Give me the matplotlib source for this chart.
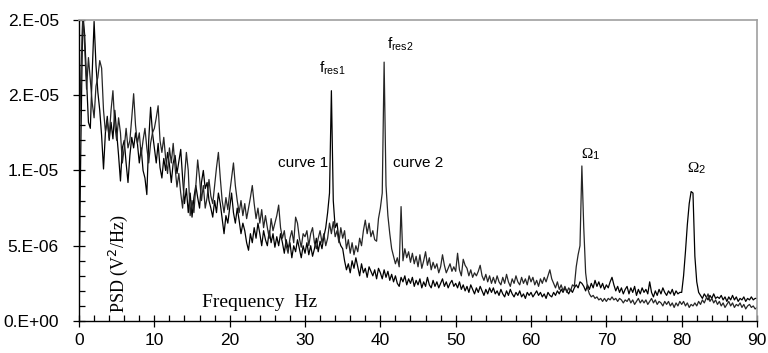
import matplotlib
matplotlib.use("Agg")
import matplotlib.pyplot as plt
from matplotlib.ticker import MultipleLocator
import numpy as np

# ---- data (PSD in units of 1e-6 V^2/Hz, sampled every 0.25 Hz from 0 to 90 Hz) ----
freq_step = 0.25

psd_curve1 = [
    2.3, 12.0, 20.5, 19.0, 16.0, 13.2, 12.8, 16.5, 19.9, 17.0, 15.2, 14.0, 12.3, 10.1, 12.5, 13.6, 12.0, 13.2, 12.1, 14.0,
    12.5, 11.0, 9.3, 11.5, 12.0, 10.5, 9.2, 11.0, 12.2, 11.5, 12.5, 11.8, 10.5, 11.5, 10.0, 9.5, 8.4, 12.0, 14.2, 12.5,
    11.5, 10.5, 11.8, 10.2, 9.5, 10.8, 10.0, 11.2, 10.4, 9.2, 10.5, 11.0, 9.8, 10.6, 11.4, 9.5, 7.8, 8.8, 7.2, 8.5,
    6.9, 8.2, 9.0, 8.2, 7.5, 9.2, 10.0, 8.8, 9.2, 8.0, 7.5, 6.9, 8.0, 7.2, 8.5, 7.8, 6.8, 5.8, 7.0, 6.5,
    7.5, 8.5, 7.2, 6.5, 7.5, 6.7, 5.8, 6.5, 6.0, 5.2, 4.7, 5.8, 5.2, 6.2, 5.5, 6.5, 5.8, 5.0, 6.0, 5.4,
    5.0, 6.0, 5.2, 5.8, 4.9, 5.6, 5.0, 5.8, 5.2, 4.5, 5.4, 4.8, 5.2, 4.2, 5.0, 4.6, 5.4, 4.8, 4.2, 5.0,
    4.5, 5.2, 4.4, 5.0, 4.3, 4.8, 5.5, 4.6, 5.3, 4.8, 5.6, 6.2, 7.2, 8.5, 15.3, 8.0, 6.2, 6.5, 5.4, 5.0,
    4.8, 4.0, 3.4, 3.8, 3.2, 4.0, 3.5, 4.2, 3.6, 3.0, 3.8, 3.2, 3.5, 2.9, 3.6, 3.3, 3.0, 3.4, 2.8, 3.5,
    3.2, 2.8, 3.4, 2.9, 3.3, 2.7, 3.1, 2.6, 3.0, 2.5, 2.3, 2.9, 2.6, 3.0, 2.4, 2.8, 2.5, 2.9, 2.3, 2.7,
    2.4, 2.8, 2.2, 2.6, 2.3, 2.9, 2.4, 2.2, 2.7, 2.3, 2.6, 2.2, 2.5, 2.8, 2.3, 2.6, 2.2, 2.5, 2.7, 2.3,
    2.5, 2.2, 2.6, 2.1, 2.4, 2.0, 2.3, 1.9, 2.4, 2.1, 1.8, 2.2, 1.9, 2.3, 2.0, 1.7, 2.1, 1.8, 2.2, 1.9,
    2.2, 1.8, 2.0, 1.7, 2.1, 1.8, 1.6, 2.0, 1.7, 2.1, 1.8, 1.6, 1.9, 1.7, 2.0, 1.6, 1.8, 1.5, 1.9, 1.7,
    1.9, 1.6, 1.8, 2.0, 1.7, 1.9, 1.6, 1.8, 1.5, 1.9, 1.7, 1.6, 1.9, 1.7, 2.0, 1.8, 2.1, 1.9, 2.2, 2.0,
    1.8, 2.1, 1.9, 2.2, 2.4, 2.2, 2.6, 2.5, 2.3, 2.0, 2.4, 2.1, 2.5, 2.2, 2.7, 2.3, 2.6, 2.2, 2.5, 2.1,
    2.4, 2.2, 2.6, 2.9, 2.4, 2.0, 2.3, 1.9, 2.2, 1.8, 2.1, 2.3, 1.8, 2.2, 1.9, 2.3, 1.7, 2.1, 1.8, 2.2,
    1.9, 2.1, 1.8, 2.6, 1.9, 1.6, 2.0, 1.7, 2.1, 1.8, 2.2, 1.9, 1.7, 2.0, 1.8, 2.1, 1.7, 2.0, 1.8, 1.9,
    1.9, 3.0, 4.6, 6.4, 7.8, 8.6, 8.5, 4.3, 2.6, 1.9, 1.7, 1.5, 1.8, 1.6, 1.4, 1.7, 1.5, 1.8, 1.5, 1.6,
    1.5, 1.7, 1.4, 1.6, 1.3, 1.6, 1.4, 1.7, 1.4, 1.6, 1.3, 1.5, 1.4, 1.6, 1.3, 1.5, 1.4, 1.6, 1.4, 1.5,
    1.5,
]

psd_curve2 = [
    11.0, 16.5, 20.3, 18.2, 15.4, 17.5, 16.0, 14.5, 13.5, 15.6, 16.2, 17.3, 16.8, 14.0, 12.6, 13.3, 12.2, 14.0, 15.3, 13.0,
    12.0, 13.5, 12.5, 10.5, 11.5, 12.8, 11.5, 12.0, 13.5, 15.1, 13.0, 11.8, 12.5, 11.0, 12.0, 12.8, 11.5, 10.5, 11.8, 12.5,
    12.8, 13.5, 14.3, 12.0, 11.2, 12.2, 10.8, 9.8, 11.5, 10.5, 11.8, 10.2, 8.9, 9.8, 8.5, 7.5, 9.5, 11.2, 10.0, 7.0,
    8.0, 7.2, 9.0, 10.7, 9.5, 8.0, 9.0, 7.5, 8.2, 9.4, 8.3, 7.8, 9.0, 10.2, 11.2, 9.5, 8.0, 7.2, 8.2, 7.4,
    8.5, 9.5, 10.5, 9.0, 8.0, 7.2, 8.0, 7.0, 7.8, 6.8, 7.5, 8.2, 9.0, 7.8, 6.8, 7.5, 6.5, 7.4, 6.2, 7.0,
    6.2, 5.5, 6.8, 6.0, 6.5, 7.0, 7.7, 6.2, 5.5, 6.0, 5.0, 4.5, 5.5, 6.0, 5.2, 6.9, 6.5, 5.5, 4.9, 5.8,
    5.6, 6.0, 5.0, 5.8, 6.2, 5.2, 4.8, 5.5, 6.0, 5.2, 5.8, 5.0, 5.5, 6.5, 5.8, 6.6, 5.6, 6.0, 5.2, 6.2,
    5.5, 6.0, 4.8, 5.4, 4.5, 5.2, 4.4, 5.0, 4.6, 5.5, 5.0, 6.0, 6.7, 5.8, 6.5, 5.6, 6.0, 5.4, 5.3, 6.8,
    7.5, 8.5, 17.2, 9.0, 7.0, 5.8, 4.8, 4.3, 3.8, 4.2, 3.6, 7.6, 4.0, 4.8, 4.2, 4.6, 3.9, 4.5, 3.8, 4.3,
    3.6, 4.4, 3.5, 4.0, 4.6, 3.7, 4.2, 3.4, 3.9, 3.5, 3.8, 3.2, 3.6, 4.4, 3.7, 3.2, 3.5, 3.8, 3.3, 3.6,
    3.3, 4.5, 3.4, 3.0, 4.1, 3.7, 3.5, 3.0, 3.4, 2.9, 3.2, 3.0, 3.3, 3.7, 3.0, 2.7, 3.1, 2.6, 3.0, 2.5,
    2.9, 2.5, 3.0, 2.6, 2.4, 2.9, 2.5, 3.1, 2.6, 2.3, 2.8, 2.5, 3.0, 2.6, 2.4, 2.9, 2.5, 2.8, 2.4, 3.0,
    2.6, 2.9, 2.4, 2.7, 2.3, 2.8, 2.5, 2.9, 2.6, 3.0, 3.4, 2.8, 2.5, 2.2, 2.6, 2.1, 2.4, 2.0, 2.3, 1.9,
    2.2, 2.0, 2.4, 2.3, 3.6, 4.4, 5.0, 10.3, 6.2, 3.2, 2.2, 1.8, 1.6, 1.7, 1.5, 1.6, 1.4, 1.5, 1.3, 1.5,
    1.3, 1.5, 1.4, 1.6, 1.4, 1.5, 1.3, 1.5, 1.4, 1.2, 1.4, 1.3, 1.5, 1.2, 1.4, 1.1, 1.3, 1.5, 1.2, 1.4,
    1.2, 1.4, 1.1, 1.3, 1.5, 1.2, 1.4, 1.1, 1.3, 1.2, 1.0, 1.3, 1.1, 1.3, 1.0, 1.2, 0.9, 1.2, 1.0, 1.3,
    1.1, 1.3, 1.0, 1.2, 0.9, 1.1, 1.0, 1.2, 1.0, 1.3, 1.1, 1.4, 1.2, 1.5, 1.8, 1.3, 1.5, 1.2, 1.4, 1.1,
    1.3, 1.0, 1.2, 0.9, 1.1, 1.3, 1.0, 1.2, 0.9, 1.1, 1.0, 1.2, 0.9, 1.1, 0.8, 1.0, 1.1, 0.9, 1.0, 0.8,
    0.9,
]

y_ticks = [0, 5, 10, 15, 20]
y_tick_labels = ["0.E+00", "5.E-06", "1.E-05", "2.E-05", "2.E-05"]
x_ticks = [0, 10, 20, 30, 40, 50, 60, 70, 80, 90]

freq = np.arange(len(psd_curve1)) * freq_step

# ---- figure ----
fig = plt.figure(figsize=(7.68, 3.53), dpi=100, facecolor="white")
ax = fig.add_axes([0.1029, 0.0907, 0.8828, 0.8527])

ax.plot(freq, psd_curve1, color="#000000", lw=0.9)
ax.plot(freq, psd_curve2, color="#262626", lw=0.9)

ax.set_xlim(0, 90)
ax.set_ylim(0, 20)

# spines: black left/bottom, grey top/right
for side in ("left", "bottom"):
    ax.spines[side].set_color("black")
    ax.spines[side].set_linewidth(1.0)
for side in ("top", "right"):
    ax.spines[side].set_color("#a0a0a0")
    ax.spines[side].set_linewidth(1.2)

ax.set_xticks(x_ticks)
ax.set_yticks(y_ticks)
ax.set_yticklabels(y_tick_labels)
ax.xaxis.set_minor_locator(MultipleLocator(2))
ax.yaxis.set_minor_locator(MultipleLocator(1))
ax.tick_params(which="major", direction="inout", length=9, width=0.9,
               labelsize=12.5)
ax.tick_params(which="minor", direction="in", length=4, width=0.9)
ax.tick_params(axis="x", pad=4)
ax.tick_params(axis="y", pad=10)
for lab in ax.get_xticklabels() + ax.get_yticklabels():
    lab.set_family("Liberation Sans")

# ---- annotations ----
ax.text(0.058, 0.19, "PSD (V$^2$/Hz)", transform=ax.transAxes, rotation=90,
        ha="center", va="center", fontsize=13, family="Liberation Serif")
ax.text(16.3, 1.2, "Frequency  Hz", ha="left", va="center",
        fontsize=14, family="Liberation Serif")

ax.text(26.4, 10.5, "curve 1", ha="left", va="center", fontsize=11,
        family="Liberation Sans")
ax.text(41.7, 10.5, "curve 2", ha="left", va="center", fontsize=11,
        family="Liberation Sans")

plt.rcParams["mathtext.fontset"] = "custom"
plt.rcParams["mathtext.rm"] = "Liberation Sans"
plt.rcParams["mathtext.it"] = "Liberation Sans"
ax.text(31.9, 16.2, r"$\mathrm{f_{res1}}$", ha="left", va="bottom", fontsize=11)
ax.text(40.9, 17.8, r"$\mathrm{f_{res2}}$", ha="left", va="bottom", fontsize=11)
ax.text(66.7, 10.6, "\u03a9", ha="left", va="bottom", fontsize=11,
        family="Liberation Serif")
ax.text(68.1, 10.6, "1", ha="left", va="bottom", fontsize=8,
        family="Liberation Sans")
ax.text(80.8, 9.7, "\u03a9", ha="left", va="bottom", fontsize=11,
        family="Liberation Serif")
ax.text(82.2, 9.7, "2", ha="left", va="bottom", fontsize=8,
        family="Liberation Sans")

fig.savefig("out.png", dpi=100, facecolor="white")
